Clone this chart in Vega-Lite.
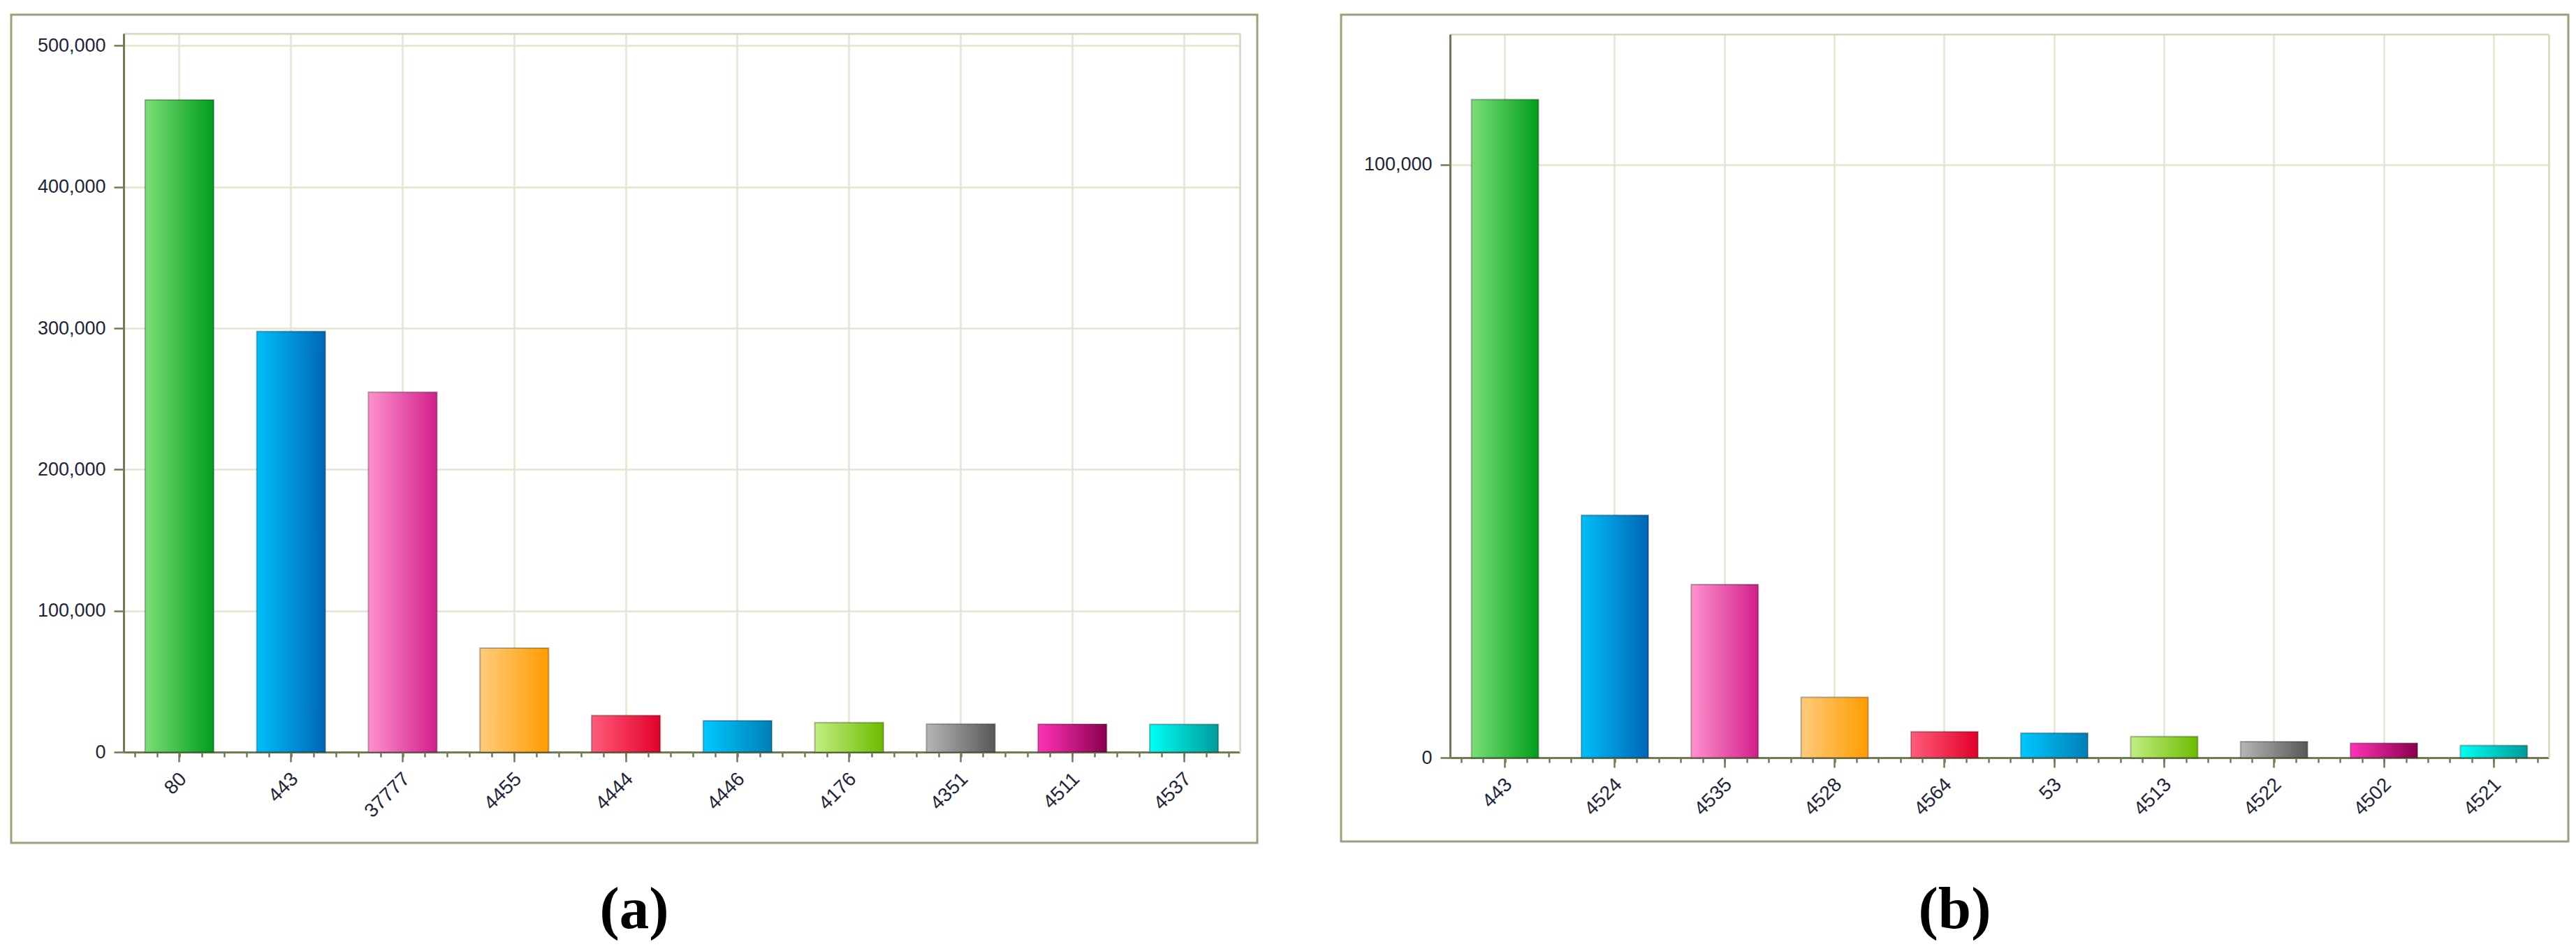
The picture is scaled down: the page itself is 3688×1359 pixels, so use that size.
{
  "$schema": "https://vega.github.io/schema/vega-lite/v6.json",
  "padding": {"left": 14, "top": 19, "right": 0, "bottom": 0},
  "background": "white",
  "bounds": "flush",
  "spacing": 120,
  "config": {
    "view": {"stroke": "#94a47a", "strokeWidth": 3},
    "axis": {"labelFont": "Liberation Sans", "labelColor": "#22253a", "domainColor": "#6e7d52", "tickColor": "#6e7d52", "gridColor": "#e2e5cf"},
    "title": {"font": "Liberation Serif", "fontSize": 85, "fontWeight": "bold", "color": "#000000"}
  },
  "datasets": {
    "a": [
      {"port": "80", "count": 461700, "rank": 1},
      {"port": "443", "count": 297800, "rank": 2},
      {"port": "37777", "count": 254800, "rank": 3},
      {"port": "4455", "count": 73600, "rank": 4},
      {"port": "4444", "count": 26000, "rank": 5},
      {"port": "4446", "count": 22200, "rank": 6},
      {"port": "4176", "count": 20900, "rank": 7},
      {"port": "4351", "count": 19900, "rank": 8},
      {"port": "4511", "count": 19800, "rank": 9},
      {"port": "4537", "count": 19600, "rank": 10}
    ],
    "b": [
      {"port": "443", "count": 111000, "rank": 1},
      {"port": "4524", "count": 40900, "rank": 2},
      {"port": "4535", "count": 29200, "rank": 3},
      {"port": "4528", "count": 10200, "rank": 4},
      {"port": "4564", "count": 4400, "rank": 5},
      {"port": "53", "count": 4150, "rank": 6},
      {"port": "4513", "count": 3550, "rank": 7},
      {"port": "4522", "count": 2700, "rank": 8},
      {"port": "4502", "count": 2450, "rank": 9},
      {"port": "4521", "count": 2050, "rank": 10}
    ]
  },
  "hconcat": [
    {
      "width": 1784,
      "height": 1186,
      "title": {"text": "(a)", "orient": "bottom", "anchor": "middle", "frame": "group", "offset": 55},
      "data": {"name": "a"},
      "layer": [
        {
          "mark": {"type": "bar", "stroke": "#000000", "strokeOpacity": 0.28, "strokeWidth": 2},
          "encoding": {
            "x": {"field": "port", "type": "nominal", "sort": null,
              "scale": {"range": [161, 1759], "paddingInner": 0.385, "paddingOuter": 0.1925},
              "axis": {"orient": "bottom", "offset": -130, "title": null, "bandPosition": 0.5, "labelAngle": -45, "labelAlign": "right", "labelBaseline": "middle", "labelFontSize": 28, "labelPadding": 20, "labelOffset": 6, "tickSize": 14, "tickWidth": 2.5, "domainWidth": 3, "grid": false}},
            "y": {"field": "count", "type": "quantitative",
              "scale": {"domain": [0, 508600], "range": [1056, 27], "nice": false, "zero": true},
              "axis": {"orient": "left", "offset": -161, "title": null, "values": [0, 100000, 200000, 300000, 400000, 500000], "format": ",d", "labelFontSize": 27, "labelPadding": 12, "tickSize": 14, "tickWidth": 2.5, "domainWidth": 3, "grid": true, "gridWidth": 2.5}},
            "fill": {
              "condition": [
                {"test": "datum.rank === 1", "value": {"gradient": "linear", "x1": 0, "y1": 0, "x2": 1, "y2": 0, "stops": [{"offset": 0, "color": "#7ade76"}, {"offset": 1, "color": "#009e1c"}]}},
                {"test": "datum.rank === 2", "value": {"gradient": "linear", "x1": 0, "y1": 0, "x2": 1, "y2": 0, "stops": [{"offset": 0, "color": "#00bef8"}, {"offset": 1, "color": "#0066b6"}]}},
                {"test": "datum.rank === 3", "value": {"gradient": "linear", "x1": 0, "y1": 0, "x2": 1, "y2": 0, "stops": [{"offset": 0, "color": "#ff92cd"}, {"offset": 1, "color": "#d21f8b"}]}},
                {"test": "datum.rank === 4", "value": {"gradient": "linear", "x1": 0, "y1": 0, "x2": 1, "y2": 0, "stops": [{"offset": 0, "color": "#ffcc7c"}, {"offset": 1, "color": "#ff9c00"}]}},
                {"test": "datum.rank === 5", "value": {"gradient": "linear", "x1": 0, "y1": 0, "x2": 1, "y2": 0, "stops": [{"offset": 0, "color": "#ff5c7a"}, {"offset": 1, "color": "#e2002a"}]}},
                {"test": "datum.rank === 6", "value": {"gradient": "linear", "x1": 0, "y1": 0, "x2": 1, "y2": 0, "stops": [{"offset": 0, "color": "#00c8ff"}, {"offset": 1, "color": "#007fb6"}]}},
                {"test": "datum.rank === 7", "value": {"gradient": "linear", "x1": 0, "y1": 0, "x2": 1, "y2": 0, "stops": [{"offset": 0, "color": "#c2ee82"}, {"offset": 1, "color": "#6cbc00"}]}},
                {"test": "datum.rank === 8", "value": {"gradient": "linear", "x1": 0, "y1": 0, "x2": 1, "y2": 0, "stops": [{"offset": 0, "color": "#b6b6b6"}, {"offset": 1, "color": "#585858"}]}},
                {"test": "datum.rank === 9", "value": {"gradient": "linear", "x1": 0, "y1": 0, "x2": 1, "y2": 0, "stops": [{"offset": 0, "color": "#ff32b6"}, {"offset": 1, "color": "#8a004e"}]}},
                {"test": "datum.rank === 10", "value": {"gradient": "linear", "x1": 0, "y1": 0, "x2": 1, "y2": 0, "stops": [{"offset": 0, "color": "#00fff4"}, {"offset": 1, "color": "#009a9a"}]}}
              ],
              "value": "#999999"
            }
          }
        },
        {
          "mark": {"type": "bar", "opacity": 0},
          "encoding": {
            "x": {"field": "port", "type": "nominal", "sort": null,
              "scale": {"range": [161, 1759], "paddingInner": 0.385, "paddingOuter": 0.1925},
              "axis": {"orient": "top", "offset": -27, "title": null, "bandPosition": 0.5, "labels": false, "ticks": false, "grid": true, "gridWidth": 2.5, "domainColor": "#d2d8bc", "domainWidth": 2.5}},
            "y": {"field": "count", "type": "quantitative",
              "axis": {"orient": "right", "offset": -25, "title": null, "labels": false, "ticks": false, "grid": false, "domainColor": "#d2d8bc", "domainWidth": 2.5}}
          }
        },
        {
          "mark": {"type": "point", "opacity": 0},
          "encoding": {
            "x": {"datum": 0, "type": "quantitative",
              "scale": {"domain": [-2.5, 47.5], "range": [161, 1759], "nice": false, "zero": false},
              "axis": {"orient": "bottom", "offset": -130, "title": null, "labels": false, "domain": false, "grid": false, "tickSize": 7, "tickWidth": 2.5,
                "values": [-2, -1, 0, 1, 2, 3, 4, 5, 6, 7, 8, 9, 10, 11, 12, 13, 14, 15, 16, 17, 18, 19, 20, 21, 22, 23, 24, 25, 26, 27, 28, 29, 30, 31, 32, 33, 34, 35, 36, 37, 38, 39, 40, 41, 42, 43, 44, 45, 46, 47]}}
          }
        }
      ],
      "resolve": {"scale": {"x": "independent"}, "axis": {"x": "independent", "y": "independent"}}
    },
    {
      "width": 1757,
      "height": 1184,
      "title": {"text": "(b)", "orient": "bottom", "anchor": "middle", "frame": "group", "offset": 57},
      "data": {"name": "b"},
      "layer": [
        {
          "mark": {"type": "bar", "stroke": "#000000", "strokeOpacity": 0.28, "strokeWidth": 2},
          "encoding": {
            "x": {"field": "port", "type": "nominal", "sort": null,
              "scale": {"range": [156, 1729], "paddingInner": 0.39, "paddingOuter": 0.195},
              "axis": {"orient": "bottom", "offset": -120, "title": null, "bandPosition": 0.5, "labelAngle": -45, "labelAlign": "right", "labelBaseline": "middle", "labelFontSize": 28, "labelPadding": 20, "labelOffset": 6, "tickSize": 14, "tickWidth": 2.5, "domainWidth": 3, "grid": false}},
            "y": {"field": "count", "type": "quantitative",
              "scale": {"domain": [0, 122000], "range": [1064, 28], "nice": false, "zero": true},
              "axis": {"orient": "left", "offset": -156, "title": null, "values": [0, 100000], "format": ",d", "labelFontSize": 27, "labelPadding": 12, "tickSize": 14, "tickWidth": 2.5, "domainWidth": 3, "grid": true, "gridWidth": 2.5}},
            "fill": {
              "condition": [
                {"test": "datum.rank === 1", "value": {"gradient": "linear", "x1": 0, "y1": 0, "x2": 1, "y2": 0, "stops": [{"offset": 0, "color": "#7ade76"}, {"offset": 1, "color": "#009e1c"}]}},
                {"test": "datum.rank === 2", "value": {"gradient": "linear", "x1": 0, "y1": 0, "x2": 1, "y2": 0, "stops": [{"offset": 0, "color": "#00bef8"}, {"offset": 1, "color": "#0066b6"}]}},
                {"test": "datum.rank === 3", "value": {"gradient": "linear", "x1": 0, "y1": 0, "x2": 1, "y2": 0, "stops": [{"offset": 0, "color": "#ff92cd"}, {"offset": 1, "color": "#d21f8b"}]}},
                {"test": "datum.rank === 4", "value": {"gradient": "linear", "x1": 0, "y1": 0, "x2": 1, "y2": 0, "stops": [{"offset": 0, "color": "#ffcc7c"}, {"offset": 1, "color": "#ff9c00"}]}},
                {"test": "datum.rank === 5", "value": {"gradient": "linear", "x1": 0, "y1": 0, "x2": 1, "y2": 0, "stops": [{"offset": 0, "color": "#ff5c7a"}, {"offset": 1, "color": "#e2002a"}]}},
                {"test": "datum.rank === 6", "value": {"gradient": "linear", "x1": 0, "y1": 0, "x2": 1, "y2": 0, "stops": [{"offset": 0, "color": "#00c8ff"}, {"offset": 1, "color": "#007fb6"}]}},
                {"test": "datum.rank === 7", "value": {"gradient": "linear", "x1": 0, "y1": 0, "x2": 1, "y2": 0, "stops": [{"offset": 0, "color": "#c2ee82"}, {"offset": 1, "color": "#6cbc00"}]}},
                {"test": "datum.rank === 8", "value": {"gradient": "linear", "x1": 0, "y1": 0, "x2": 1, "y2": 0, "stops": [{"offset": 0, "color": "#b6b6b6"}, {"offset": 1, "color": "#585858"}]}},
                {"test": "datum.rank === 9", "value": {"gradient": "linear", "x1": 0, "y1": 0, "x2": 1, "y2": 0, "stops": [{"offset": 0, "color": "#ff32b6"}, {"offset": 1, "color": "#8a004e"}]}},
                {"test": "datum.rank === 10", "value": {"gradient": "linear", "x1": 0, "y1": 0, "x2": 1, "y2": 0, "stops": [{"offset": 0, "color": "#00fff4"}, {"offset": 1, "color": "#009a9a"}]}}
              ],
              "value": "#999999"
            }
          }
        },
        {
          "mark": {"type": "bar", "opacity": 0},
          "encoding": {
            "x": {"field": "port", "type": "nominal", "sort": null,
              "scale": {"range": [156, 1729], "paddingInner": 0.39, "paddingOuter": 0.195},
              "axis": {"orient": "top", "offset": -28, "title": null, "bandPosition": 0.5, "labels": false, "ticks": false, "grid": true, "gridWidth": 2.5, "domainColor": "#d2d8bc", "domainWidth": 2.5}},
            "y": {"field": "count", "type": "quantitative",
              "axis": {"orient": "right", "offset": -28, "title": null, "labels": false, "ticks": false, "grid": false, "domainColor": "#d2d8bc", "domainWidth": 2.5}}
          }
        },
        {
          "mark": {"type": "point", "opacity": 0},
          "encoding": {
            "x": {"datum": 0, "type": "quantitative",
              "scale": {"domain": [-2.5, 47.5], "range": [156, 1729], "nice": false, "zero": false},
              "axis": {"orient": "bottom", "offset": -120, "title": null, "labels": false, "domain": false, "grid": false, "tickSize": 7, "tickWidth": 2.5,
                "values": [-2, -1, 0, 1, 2, 3, 4, 5, 6, 7, 8, 9, 10, 11, 12, 13, 14, 15, 16, 17, 18, 19, 20, 21, 22, 23, 24, 25, 26, 27, 28, 29, 30, 31, 32, 33, 34, 35, 36, 37, 38, 39, 40, 41, 42, 43, 44, 45, 46, 47]}}
          }
        }
      ],
      "resolve": {"scale": {"x": "independent"}, "axis": {"x": "independent", "y": "independent"}}
    }
  ]
}
